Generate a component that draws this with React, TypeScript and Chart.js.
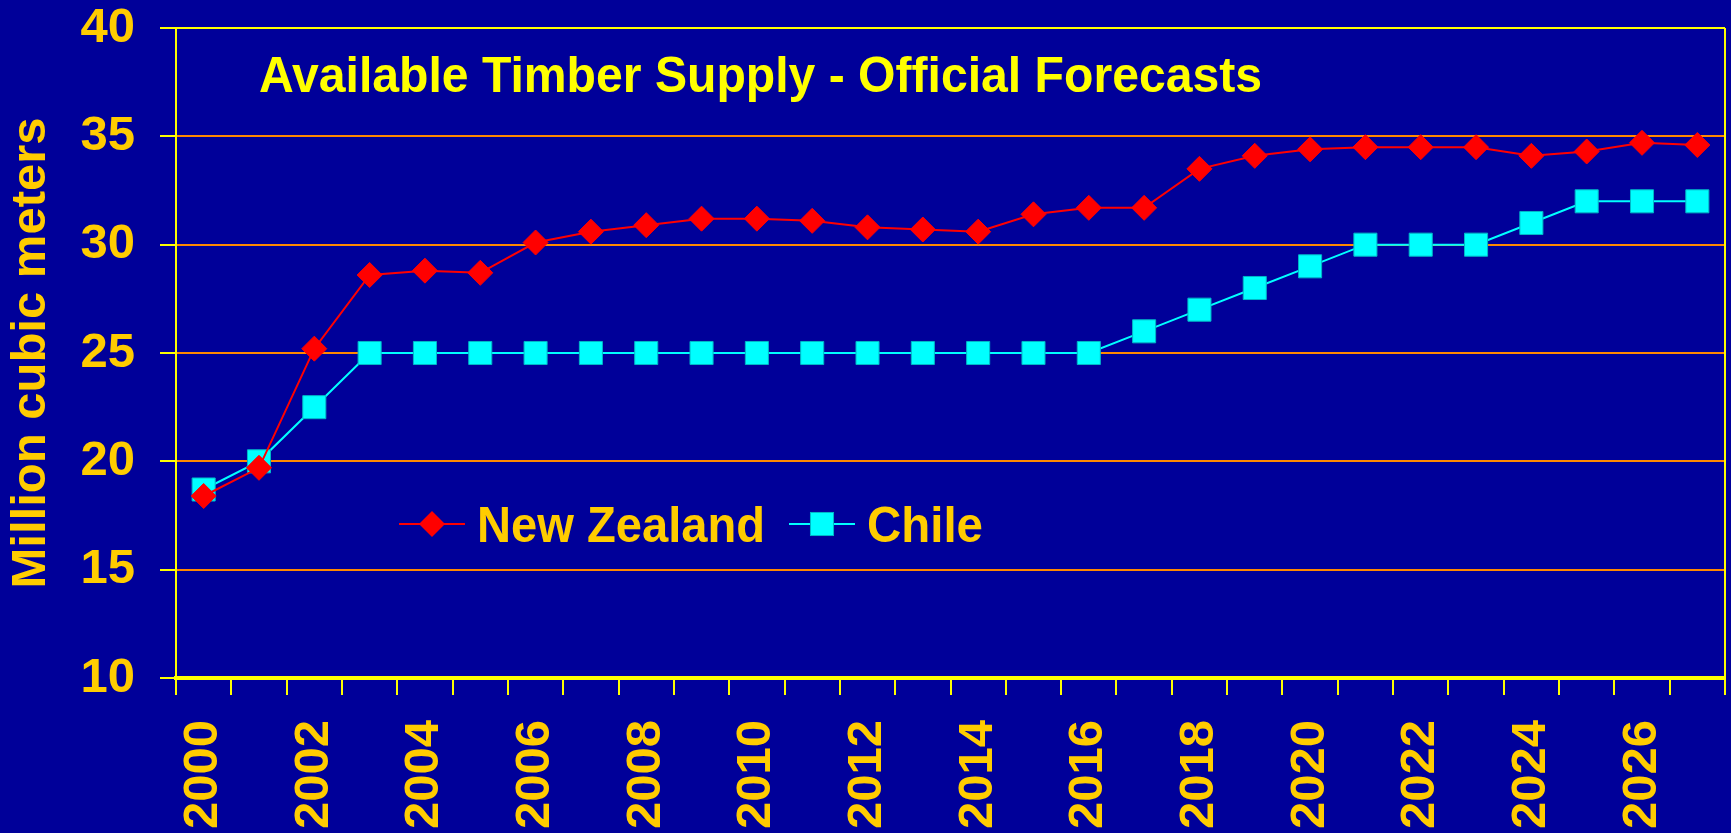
import React, { useEffect, useRef } from "react";
import { Chart, registerables } from "chart.js";

Chart.register(...registerables);

// Forecast years and available timber supply (million cubic meters)
const years: string[] = [
  "2000", "2001", "2002", "2003", "2004", "2005", "2006", "2007", "2008", "2009",
  "2010", "2011", "2012", "2013", "2014", "2015", "2016", "2017", "2018", "2019",
  "2020", "2021", "2022", "2023", "2024", "2025", "2026", "2027",
];

const newZealand: number[] = [
  18.4, 19.7, 25.2, 28.6, 28.8, 28.7, 30.1, 30.6, 30.9, 31.2,
  31.2, 31.1, 30.8, 30.7, 30.6, 31.4, 31.7, 31.7, 33.5, 34.1,
  34.4, 34.5, 34.5, 34.5, 34.1, 34.3, 34.7, 34.6,
];

const chile: number[] = [
  18.7, 20.0, 22.5, 25, 25, 25, 25, 25, 25, 25,
  25, 25, 25, 25, 25, 25, 25, 26, 27, 28,
  29, 30, 30, 30, 31, 32, 32, 32,
];

const seriesNames: string[] = ["New Zealand", "Chile"];
const chartTitle = "Available Timber Supply - Official Forecasts";
const yAxisTitle = "Million cubic meters";

const BG = "#000099";
const GOLD = "#FFCC00";
const YELLOW = "#FFFF00";
const GRID = "#FF8800";
const NZ_RED = "#FF0000";
const CHILE_CYAN = "#00FFFF";
const CHILE_EDGE = "#00B8C8";
const FONT = "'Liberation Sans', Arial, Helvetica, sans-serif";

const W = 1731;
const H = 833;

// Frame, title and inline legend drawn over the plot area
const decorations = {
  id: "decorations",
  afterDraw(chart: any) {
    const { ctx, chartArea } = chart;
    const { left, right, top, bottom } = chartArea;
    ctx.save();

    // right edge of the frame
    ctx.strokeStyle = YELLOW;
    ctx.lineWidth = 2;
    ctx.beginPath();
    ctx.moveTo(right, top);
    ctx.lineTo(right, bottom);
    ctx.stroke();

    // chart title inside the plot
    ctx.fillStyle = YELLOW;
    ctx.font = `bold 50px ${FONT}`;
    ctx.textAlign = "left";
    ctx.textBaseline = "alphabetic";
    ctx.fillText(chartTitle, left + 83, top + 64, 1003);

    // legend row
    const ly = top + 496;
    const items = [
      { x0: left + 223, x1: left + 289, color: NZ_RED, style: "rectRot", radius: 13, label: seriesNames[0], tx: left + 301, tw: 288 },
      { x0: left + 613, x1: left + 679, color: CHILE_CYAN, style: "rect", radius: 16.3, label: seriesNames[1], tx: left + 691, tw: 116 },
    ];
    for (const it of items) {
      ctx.strokeStyle = it.color;
      ctx.lineWidth = 2;
      ctx.beginPath();
      ctx.moveTo(it.x0, ly);
      ctx.lineTo(it.x1, ly);
      ctx.stroke();
      ctx.fillStyle = it.color;
      const cx = (it.x0 + it.x1) / 2;
      if (it.style === "rectRot") {
        ctx.beginPath();
        ctx.moveTo(cx - it.radius, ly);
        ctx.lineTo(cx, ly - it.radius);
        ctx.lineTo(cx + it.radius, ly);
        ctx.lineTo(cx, ly + it.radius);
        ctx.closePath();
        ctx.fill();
      } else {
        const s = it.radius * Math.SQRT1_2;
        ctx.fillRect(cx - s, ly - s, 2 * s, 2 * s);
        ctx.strokeStyle = CHILE_EDGE;
        ctx.lineWidth = 1;
        ctx.strokeRect(cx - s, ly - s, 2 * s, 2 * s);
      }
      ctx.fillStyle = GOLD;
      ctx.font = `bold 50px ${FONT}`;
      ctx.textAlign = "left";
      ctx.textBaseline = "alphabetic";
      ctx.fillText(it.label, it.tx, ly + 18, it.tw);
    }
    ctx.restore();
  },
};

export default function App() {
  const canvasRef = useRef<HTMLCanvasElement | null>(null);

  useEffect(() => {
    const canvas = canvasRef.current;
    if (!canvas) return;
    const chart = new Chart(canvas, {
      type: "line",
      data: {
        labels: years,
        datasets: [
          {
            label: seriesNames[0],
            data: newZealand,
            borderColor: NZ_RED,
            backgroundColor: NZ_RED,
            borderWidth: 2,
            pointStyle: "rectRot",
            pointRadius: 12.5,
            pointBorderWidth: 1,
            pointBorderColor: NZ_RED,
            pointBackgroundColor: NZ_RED,
            tension: 0,
          },
          {
            label: seriesNames[1],
            data: chile,
            borderColor: CHILE_CYAN,
            backgroundColor: CHILE_CYAN,
            borderWidth: 2,
            pointStyle: "rect",
            pointRadius: 16.3,
            pointBorderWidth: 1,
            pointBorderColor: CHILE_EDGE,
            pointBackgroundColor: CHILE_CYAN,
            tension: 0,
          },
        ],
      },
      options: {
        animation: false,
        responsive: false,
        devicePixelRatio: 1,
        layout: { autoPadding: false, padding: { left: 0, top: 28, right: 6, bottom: 0 } },
        plugins: {
          legend: { display: false },
          title: { display: false },
          tooltip: { enabled: false },
        },
        scales: {
          x: {
            type: "category",
            offset: true,
            grid: {
              offset: true,
              drawOnChartArea: false,
              color: YELLOW,
              lineWidth: 2,
              tickLength: 17,
            },
            border: { color: YELLOW, width: 4 },
            ticks: {
              autoSkip: false,
              maxRotation: 90,
              minRotation: 90,
              padding: 25,
              color: GOLD,
              font: { family: FONT, size: 49, weight: "bold" },
              callback: (_v: any, i: number) => (i % 2 === 0 ? years[i] : ""),
            },
            afterFit: (scale: any) => {
              scale.height = H - 678;
              scale.paddingLeft = 0;
              scale.paddingRight = 0;
            },
          },
          y: {
            min: 10,
            max: 40,
            ticks: {
              stepSize: 5,
              padding: 25,
              color: GOLD,
              font: { family: FONT, size: 49, weight: "bold" },
            },
            grid: {
              color: (c: any) => (c.tick && c.tick.value === 40 ? YELLOW : GRID),
              lineWidth: 2,
              tickColor: YELLOW,
              tickLength: 16,
            },
            border: { color: YELLOW, width: 2 },
            title: {
              display: true,
              text: yAxisTitle,
              color: GOLD,
              padding: { top: 2, bottom: 0 },
              font: { family: FONT, size: 49, weight: "bold", lineHeight: 1.2 },
            },
            afterFit: (scale: any) => {
              scale.width = 176;
              scale.paddingTop = 0;
              scale.paddingBottom = 0;
            },
          },
        },
      },
      plugins: [decorations],
    });
    return () => chart.destroy();
  }, []);

  return (
    <div style={{ position: "fixed", left: 0, top: 0, width: W, height: H, background: BG }}>
      <canvas ref={canvasRef} width={W} height={H} style={{ display: "block" }} />
    </div>
  );
}
